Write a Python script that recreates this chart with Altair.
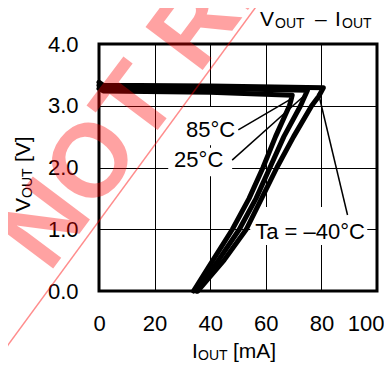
import altair as alt
import pandas as pd

# ---- data ----
series = ["-40", "25", "85"]
i_m40 = [0, 1.5, 40, 80.7, 79.0, 76.5, 70.0, 64.0, 58.5, 53.0, 45.0, 35.5]
v_m40 = [3.38, 3.33, 3.32, 3.29, 3.15, 3.0, 2.5, 2.0, 1.5, 1.0, 0.5, 0.0]
i_25 = [0, 1.5, 40, 75.0, 73.5, 72.5, 66.5, 61.5, 56.5, 50.5, 43.0, 35.0]
v_25 = [3.33, 3.29, 3.28, 3.25, 3.1, 3.0, 2.5, 2.0, 1.5, 1.0, 0.5, 0.0]
i_85 = [0, 1.5, 40, 69.5, 69.0, 68.5, 63.5, 59.0, 54.0, 48.0, 41.0, 34.0]
v_85 = [3.28, 3.24, 3.22, 3.17, 3.08, 3.0, 2.5, 2.0, 1.5, 1.0, 0.5, 0.0]

x_ticks = [0, 20, 40, 60, 80, 100]
y_ticks = [0, 1, 2, 3, 4]

label_text = ["85°C", "25°C", "Ta = –40°C"]
label_i = [49.0, 44.7, 56.2]
label_v = [2.61, 2.12, 0.955]
label_align = ["right", "right", "left"]

lead_i1 = [50.1, 47.9, 89.4]
lead_v1 = [2.61, 2.12, 1.23]
lead_i2 = [69.9, 75.0, 78.9]
lead_v2 = [3.13, 3.21, 3.21]

box_i1 = [30.6, 24.9, 54.4]
box_i2 = [50.5, 47.9, 96.5]
box_v1 = [2.36, 1.86, 0.745]
box_v2 = [2.98, 2.32, 1.36]

rows = []
for name, xs, ys in [("-40", i_m40, v_m40), ("25", i_25, v_25), ("85", i_85, v_85)]:
    for k, (a, b) in enumerate(zip(xs, ys)):
        rows.append({"s": name, "idx": k, "I": a, "V": b})
curves_df = pd.DataFrame(rows)

labels_df = pd.DataFrame({"t": label_text, "I": label_i, "V": label_v, "a": label_align})
leads_df = pd.DataFrame({"I1": lead_i1, "V1": lead_v1, "I2": lead_i2, "V2": lead_v2})
boxes_df = pd.DataFrame({"I1": box_i1, "I2": box_i2, "V1": box_v1, "V2": box_v2})

FONT = "Liberation Sans"
W, H = 278, 247

xscale = alt.Scale(domain=[0, 100], nice=False)
yscale = alt.Scale(domain=[0, 4], nice=False)

xaxis = alt.Axis(values=x_ticks, title=None, grid=True, gridColor="black", gridWidth=1,
                 ticks=False, domain=False, labelFontSize=22, labelFont=FONT,
                 labelColor="black", labelPadding=22, labelFlush=False,
                 labelAlign={"condition": {"test": "datum.value == 100", "value": "right"},
                             "value": "center"},
                 labelOffset={"condition": {"test": "datum.value == 100", "value": 7},
                              "value": 0})
yaxis = alt.Axis(values=y_ticks, title=None, grid=True, gridColor="black", gridWidth=1,
                 ticks=False, domain=False, labelFontSize=22, labelFont=FONT,
                 labelColor="black", labelPadding=21, format=".1f")

boxes = alt.Chart(boxes_df).mark_rect(color="white").encode(
    x=alt.X("I1:Q", scale=xscale, axis=xaxis), x2="I2:Q",
    y=alt.Y("V1:Q", scale=yscale, axis=yaxis), y2="V2:Q")

curves = alt.Chart(curves_df).mark_line(color="black", strokeWidth=5,
                                        strokeJoin="round", strokeCap="round").encode(
    x=alt.X("I:Q", scale=xscale), y=alt.Y("V:Q", scale=yscale),
    detail="s:N", order="idx:Q")

leads = alt.Chart(leads_df).mark_rule(color="black", strokeWidth=1.5).encode(
    x=alt.X("I1:Q", scale=xscale), y=alt.Y("V1:Q", scale=yscale),
    x2="I2:Q", y2="V2:Q")

lab_r = alt.Chart(labels_df[labels_df.a == "right"]).mark_text(
    align="right", baseline="middle", fontSize=22, font=FONT, color="black").encode(
    x=alt.X("I:Q", scale=xscale), y=alt.Y("V:Q", scale=yscale), text="t:N")
lab_l = alt.Chart(labels_df[labels_df.a == "left"]).mark_text(
    align="left", baseline="middle", fontSize=22, font=FONT, color="black").encode(
    x=alt.X("I:Q", scale=xscale), y=alt.Y("V:Q", scale=yscale), text="t:N")

one = alt.Data(values=[{"a": 1}])


def txt(s, x, y, size=21, angle=0, **kw):
    return alt.Chart(one).mark_text(text=s, align="left", baseline="alphabetic",
                                    fontSize=size, font=FONT, color="black",
                                    angle=angle, **kw).encode(
        x=alt.value(x), y=alt.value(y))


# title V_OUT – I_OUT (view origin at page (99,44))
title_parts = [
    txt("V", 161, -18), txt("OUT", 176, -16, 14),
    txt("–", 216, -18), txt("I", 236, -18), txt("OUT", 243, -16, 14),
]
xtitle = [txt("I", 93, 314), txt("OUT", 99, 316, 14), txt("[mA]", 134, 314)]
ytitle = [txt("V", -69, 168, angle=270), txt("OUT", -67, 154, 14, angle=270),
          txt("[V]", -69, 118, angle=270)]

wm_line = alt.Chart(one).mark_rule(color="red", opacity=0.45, strokeWidth=1.5).encode(
    x=alt.value(-110), y=alt.value(327), x2=alt.value(162), y2=alt.value(-44))
wm_text = alt.Chart(one).mark_text(text="NOT RECOMMENDED", align="left",
                                   baseline="alphabetic", fontSize=104, font=FONT,
                                   fontWeight="bold", color="red", opacity=0.36,
                                   angle=307).encode(
    x=alt.value(-50), y=alt.value(230))

chart = alt.layer(boxes, curves, leads, lab_r, lab_l, *title_parts, *xtitle, *ytitle,
                  wm_line, wm_text).properties(
    width=W, height=H,
    autosize=alt.AutoSizeParams(type="none"),
    padding={"left": 91, "top": 36, "right": 7, "bottom": 72},
).configure_view(stroke="black", strokeWidth=3)

chart.save("out.html", embed_options={"renderer": "svg", "actions": False})
